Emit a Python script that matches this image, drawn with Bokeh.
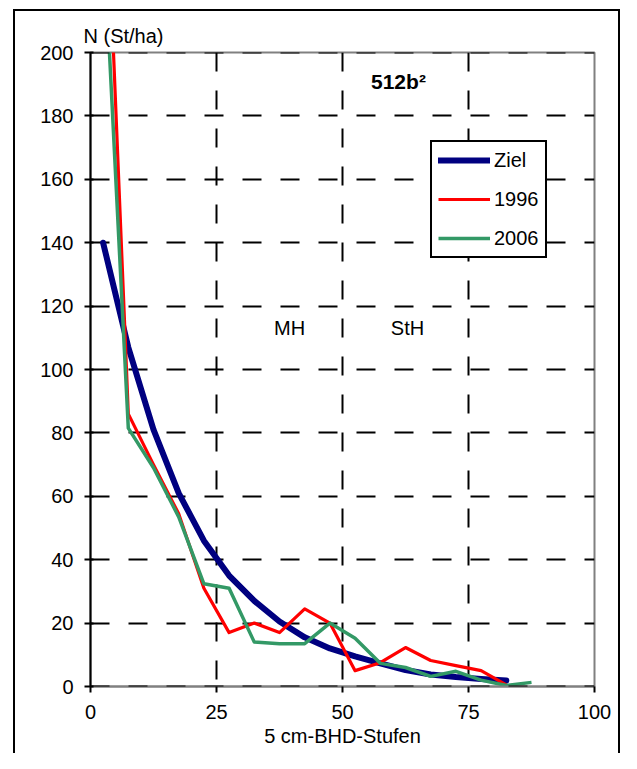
from bokeh.plotting import figure
from bokeh.models import Range1d, FixedTicker, Label, Legend, LegendItem, Span, InlineStyleSheet
from bokeh.embed import file_html
from bokeh.resources import INLINE

# ---- data ----
x_ziel = [2.5, 7.5, 12.5, 17.5, 22.5, 27.5, 32.5, 37.5, 42.5, 47.5, 52.5, 57.5, 62.5, 67.5, 72.5, 77.5, 82.5]
n_ziel = [140, 107, 81, 61, 46, 35, 27, 20.5, 15.5, 12, 9.5, 7.3, 5.2, 3.8, 3.0, 2.4, 1.9]

x_1996 = [2.5, 7.5, 12.5, 17.5, 22.5, 27.5, 32.5, 37.5, 42.5, 47.5, 52.5, 57.5, 62.5, 67.5, 72.5, 77.5, 82.5]
n_1996 = [280, 86, 70, 54.5, 31, 17, 20, 17, 24.5, 20, 5, 7.5, 12.3, 8.2, 6.6, 5, 0.5]

x_2006 = [2.5, 7.5, 12.5, 17.5, 22.5, 27.5, 32.5, 37.5, 42.5, 47.5, 52.5, 57.5, 62.5, 67.5, 72.5, 77.5, 82.5, 87.5]
n_2006 = [240, 81.5, 69, 53.5, 32.4, 31, 14, 13.5, 13.5, 20, 15.2, 7.3, 6, 3.2, 4.8, 2, 0.3, 1.3]

x_ticks = [0, 25, 50, 75, 100]
y_ticks = [0, 20, 40, 60, 80, 100, 120, 140, 160, 180, 200]
x_grid = [25, 50, 75]

FONT = "Liberation Sans"

p = figure(width=621, height=753, x_range=Range1d(0, 100), y_range=Range1d(0, 200),
           output_backend="svg", toolbar_location=None,
           min_border_left=90, min_border_right=27, min_border_top=52, min_border_bottom=67)
p.background_fill_color = "white"
p.border_fill_color = "white"
p.outline_line_color = "#808080"
p.outline_line_width = 2

# title used as the y-axis caption at top-left
p.title.text = "N (St/ha)"
p.title.align = "left"
p.title.offset = -7
p.title.standoff = 12
p.title.text_font = FONT
p.title.text_font_size = "20px"
p.title.text_font_style = "normal"
p.title.text_color = "black"

# axes
p.xaxis.ticker = FixedTicker(ticks=x_ticks)
p.yaxis.ticker = FixedTicker(ticks=y_ticks)
for ax in (p.xaxis, p.yaxis):
    ax.minor_tick_line_color = None
    ax.major_label_text_font = FONT
    ax.major_label_text_font_size = "20px"
    ax.major_label_text_color = "black"
    ax.major_tick_line_color = "black"
    ax.major_tick_line_width = 2
p.xaxis.axis_line_color = "#808080"
p.xaxis.axis_line_width = 2
p.xaxis.major_tick_out = 6
p.xaxis.major_tick_in = 0
p.xaxis.major_label_standoff = 12
p.xaxis.axis_label = "5 cm-BHD-Stufen"
p.xaxis.axis_label_text_font = FONT
p.xaxis.axis_label_text_font_size = "20px"
p.xaxis.axis_label_text_font_style = "normal"
p.xaxis.axis_label_text_color = "black"
p.xaxis.axis_label_standoff = 3
p.yaxis.axis_line_color = "black"
p.yaxis.axis_line_width = 2
p.yaxis.major_tick_out = 6
p.yaxis.major_tick_in = 3
p.yaxis.major_label_standoff = 11

# grids
p.xgrid.ticker = FixedTicker(ticks=x_grid)
p.ygrid.ticker = FixedTicker(ticks=y_ticks)
for g in (p.xgrid, p.ygrid):
    g.grid_line_color = "black"
    g.grid_line_width = 2
    g.grid_line_dash = "19 19"
p.xgrid.grid_line_dash_offset = 31

for loc in (0, 200):
    p.add_layout(Span(location=loc, dimension="width", line_color="black",
                      line_width=2, line_dash="19 19"))

# series
r_z = p.line(x_ziel, n_ziel, line_color="#000080", line_width=6, line_cap="round", line_join="round")
r_96 = p.line(x_1996, n_1996, line_color="#FF0000", line_width=3.2, line_join="round")
r_06 = p.line(x_2006, n_2006, line_color="#339966", line_width=3.5, line_join="round")

legend = Legend(items=[LegendItem(label="Ziel", renderers=[r_z]),
                       LegendItem(label="1996", renderers=[r_96]),
                       LegendItem(label="2006", renderers=[r_06])],
                location=(340, 428))
legend.border_line_color = "black"
legend.border_line_alpha = 1
legend.border_line_width = 2
legend.background_fill_color = "white"
legend.background_fill_alpha = 1
legend.padding = 6
legend.spacing = 15
legend.margin = 0
legend.glyph_width = 52
legend.glyph_height = 24
legend.label_height = 24
legend.label_standoff = 4
legend.label_text_font = FONT
legend.label_text_font_size = "20px"
legend.label_text_color = "black"
p.add_layout(legend)

# texts inside the plot area
def lab(x, y, text, size="20px", style="normal"):
    p.add_layout(Label(x=x, y=y, text=text, text_align="center", text_baseline="middle",
                       text_font=FONT, text_font_size=size, text_font_style=style,
                       text_color="black"))

lab(61.1, 190.9, "512b²", size="21px", style="bold")
lab(39.5, 113, "MH")
lab(62.9, 113, "StH")

# outer chart border (CSS overlay, does not affect layout)
p.stylesheets = [InlineStyleSheet(css="""
:host { position: relative; }
:host::after { content: ""; position: absolute; left: 13px; top: 9px; right: 1px; bottom: 0px;
  border: 2px solid black; border-bottom: none; pointer-events: none; }
""")]

open("out.html", "w").write(file_html(p, INLINE))
